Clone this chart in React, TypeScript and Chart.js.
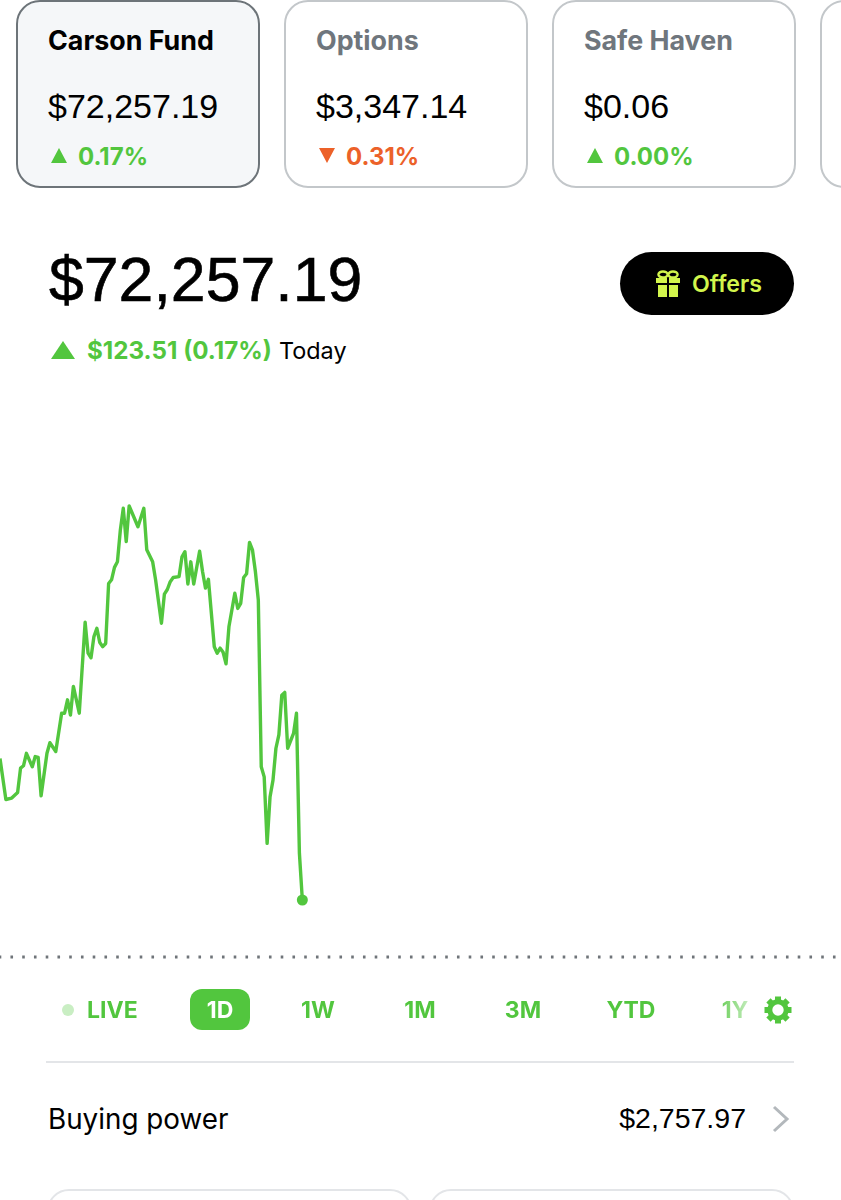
import React, { useEffect, useRef } from "react";
import { Chart, registerables } from "chart.js";

Chart.register(...registerables);

const sampleIndex = [0,2,4,6,7,8,9,11,12,13,14,16,17,19,21,22,23,24,25,27,29,30,31,32,33,34,35,36,37,38,39,40,41,42,43,44,47,49,50,52,53,55,56,57,58,59,61,62,63,64,65,66,68,69,70,71,73,74,75,76,77,78,80,81,82,83,84,85,86,87,88,89,90,91,92,93,94,95,96,97,98,100,101,102,103];
const portfolioValue = [72564,72475,72478,72490,72543,72548,72575,72546,72568,72566,72483,72575,72598,72579,72662,72662,72691,72658,72720,72662,72859,72792,72782,72828,72846,72815,72806,72813,72943,72951,72978,72990,73059,73106,73034,73111,73066,73106,73016,72990,72951,72857,72920,72930,72947,72956,72958,73001,73012,72942,72990,72942,73013,72969,72933,72952,72806,72792,72803,72794,72769,72850,72922,72889,72900,72956,72964,73032,73016,72969,72907,72546,72524,72380,72481,72517,72586,72615,72701,72707,72586,72618,72662,72358,72257.19];
const previousClose = 72133.68;
const sessionSamples = 286.5;

const accounts = [
  { name: "Carson Fund", value: "$72,257.19", change: "0.17%", up: true },
  { name: "Options", value: "$3,347.14", change: "0.31%", up: false },
  { name: "Safe Haven", value: "$0.06", change: "0.00%", up: true },
];
const ranges = [
  { label: "1W", cx: 318 },
  { label: "1M", cx: 420 },
  { label: "3M", cx: 523 },
  { label: "YTD", cx: 631 },
];

const GREEN = "#52c63e";
const ORANGE = "#ec6129";
const SANS = "Inter, 'Noto Sans', sans-serif";
const NUM = "'Liberation Sans', Arial, sans-serif";

function T(p: { x?: number; right?: number; cx?: number; cy: number; size: number; weight?: number; color?: string; font?: string; ls?: number; children: React.ReactNode; style?: React.CSSProperties }) {
  const s: React.CSSProperties = {
    position: "absolute", top: p.cy - 40, height: 80, lineHeight: "80px", whiteSpace: "nowrap",
    fontSize: p.size, fontWeight: p.weight ?? 400, color: p.color ?? "#000", fontFamily: p.font ?? SANS, letterSpacing: p.ls ?? 0, ...p.style,
  };
  if (p.x !== undefined) s.left = p.x;
  if (p.right !== undefined) s.right = 841 - p.right;
  if (p.cx !== undefined) { s.left = p.cx; s.transform = "translateX(-50%)"; }
  return <div style={s}>{p.children}</div>;
}

function Tri(p: { x: number; y: number; w: number; h: number; up: boolean; color: string }) {
  return <div style={{ position: "absolute", left: p.x, top: p.y, width: p.w, height: p.h, background: p.color, clipPath: p.up ? "polygon(50% 0,100% 100%,0 100%)" : "polygon(0 0,100% 0,50% 100%)" }} />;
}

function Gift() {
  return (
    <svg style={{ position: "absolute", left: 655, top: 270 }} width="26" height="28" viewBox="0 0 26 28">
      <g fill="none" stroke="#d2f54c" strokeWidth="2.4">
        <ellipse cx="8" cy="4.5" rx="4.6" ry="3" />
        <ellipse cx="18" cy="4.5" rx="4.6" ry="3" />
      </g>
      <rect x="1" y="8" width="11" height="5" fill="#d2f54c" />
      <rect x="14" y="8" width="11" height="5" fill="#d2f54c" />
      <rect x="3" y="15" width="9" height="12" fill="#d2f54c" />
      <rect x="14" y="15" width="9" height="12" fill="#d2f54c" />
    </svg>
  );
}

function Gear() {
  const teeth = [0, 45, 90, 135, 180, 225, 270, 315];
  return (
    <svg style={{ position: "absolute", left: 764, top: 996 }} width="28" height="28" viewBox="0 0 28 28">
      {teeth.map((a) => <rect key={a} x="11" y="0.5" width="6" height="6" fill={GREEN} transform={`rotate(${a} 14 14)`} />)}
      <circle cx="14" cy="14" r="8.2" fill="none" stroke={GREEN} strokeWidth="5" />
    </svg>
  );
}

export default function App() {
  const ref = useRef<HTMLCanvasElement>(null);
  useEffect(() => {
    const chart = new Chart(ref.current!, {
      type: "line",
      data: {
        datasets: [
          {
            data: sampleIndex.map((x, i) => ({ x, y: portfolioValue[i] })),
            borderColor: GREEN,
            borderWidth: 3.4,
            tension: 0,
            borderJoinStyle: "round",
            pointRadius: (c: any) => (c.dataIndex === sampleIndex.length - 1 ? 5.5 : 0),
            pointBackgroundColor: GREEN,
            pointBorderWidth: 0,
          },
          {
            data: [{ x: 0, y: previousClose }, { x: sessionSamples, y: previousClose }],
            borderColor: "#6f7479",
            borderWidth: 3,
            borderDash: [2.6, 9.15],
            borderDashOffset: 1.3,
            pointRadius: 0,
          },
        ],
      },
      options: {
        animation: false,
        responsive: false,
        layout: { padding: 0, autoPadding: false },
        plugins: { legend: { display: false }, tooltip: { enabled: false } },
        scales: {
          x: { type: "linear", display: false, min: 0, max: sessionSamples },
          y: { type: "linear", display: false, min: 72083.8, max: 73167.3 },
        },
      },
    } as any);
    return () => chart.destroy();
  }, []);

  const cardX = [16, 284, 552];
  return (
    <div style={{ position: "absolute", left: 0, top: 0, width: 841, height: 1200, overflow: "hidden", background: "#fff" }}>
      {accounts.map((a, i) => (
        <div key={a.name}>
          <div style={{ position: "absolute", boxSizing: "border-box", left: cardX[i], top: 0, width: i === 0 ? 244 : 243.5, height: 188, borderRadius: 24, border: i === 0 ? "2px solid #6d7479" : "2px solid #c3c7ca", background: i === 0 ? "#f5f7f9" : "#fff" }} />
          <T x={cardX[i] + 32} cy={40} size={26.8} weight={700} color={i === 0 ? "#000" : "#6f767d"}>{a.name}</T>
          <T x={cardX[i] + 32} cy={106} size={34} font={NUM}>{a.value}</T>
          <Tri x={cardX[i] + 35} y={148} w={16} h={15} up={a.up} color={a.up ? GREEN : ORANGE} />
          <T x={cardX[i] + 62} cy={157} size={24} weight={700} color={a.up ? GREEN : ORANGE}>{a.change}</T>
        </div>
      ))}
      <div style={{ position: "absolute", boxSizing: "border-box", left: 820, top: 0, width: 244, height: 188, borderRadius: 24, border: "2px solid #c3c7ca" }} />

      <T x={49} cy={279} size={62.6} font={NUM} style={{ WebkitTextStroke: "0.6px #000" }}>$72,257.19</T>
      <Tri x={51} y={341} w={24} h={18} up color={GREEN} />
      <T x={87} cy={351} size={24.2} weight={700} color={GREEN}>$123.51 (0.17%)</T>
      <T x={279} cy={351} size={23.4}>Today</T>

      <div style={{ position: "absolute", left: 620, top: 252, width: 174, height: 63, borderRadius: 32, background: "#000" }} />
      <Gift />
      <T x={692} cy={284} size={23.2} weight={600} color="#d2f54c">Offers</T>

      <canvas ref={ref} width={841} height={500} style={{ position: "absolute", left: 0, top: 480, width: 841, height: 500 }} />

      <div style={{ position: "absolute", left: 62, top: 1004, width: 12, height: 12, borderRadius: 6, background: "#c9eec3" }} />
      <T x={87} cy={1010} size={23} weight={700} color={GREEN}>LIVE</T>
      <div style={{ position: "absolute", left: 190, top: 989, width: 60, height: 41, borderRadius: 12, background: GREEN }} />
      <T cx={220} cy={1010} size={23} weight={700} color="#fff">1D</T>
      {ranges.map((r) => <T key={r.label} cx={r.cx} cy={1010} size={23} weight={700} color={GREEN}>{r.label}</T>)}
      <T cx={735} cy={1010} size={23} weight={700} color="transparent" style={{ backgroundImage: `linear-gradient(90deg, #6fd05e, #c4ecbd)`, WebkitBackgroundClip: "text", backgroundClip: "text" }}>1Y</T>
      <Gear />
      <div style={{ position: "absolute", left: 46, top: 1061, width: 748, height: 2, background: "#e3e5e8" }} />
      <T x={48} cy={1119} size={27.8}>Buying power</T>
      <T right={746} cy={1118} size={28.5} font={NUM}>$2,757.97</T>
      <svg style={{ position: "absolute", left: 771, top: 1105 }} width="20" height="28" viewBox="0 0 20 28">
        <path d="M3 2 L16 14 L3 26" fill="none" stroke="#b3b8bc" strokeWidth="3" />
      </svg>
      <div style={{ position: "absolute", boxSizing: "border-box", left: 47, top: 1189, width: 365, height: 60, borderRadius: 22, border: "2px solid #e3e5e8" }} />
      <div style={{ position: "absolute", boxSizing: "border-box", left: 429, top: 1189, width: 365, height: 60, borderRadius: 22, border: "2px solid #e3e5e8" }} />
    </div>
  );
}
